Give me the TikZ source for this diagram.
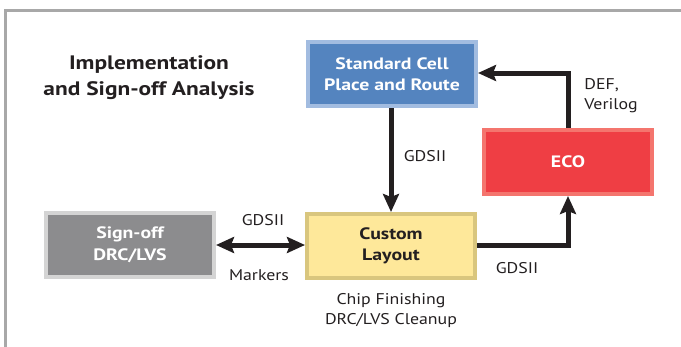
\documentclass[tikz,border=0pt]{standalone}
\usepackage{fontspec}
\setmainfont{PT Sans}[FakeStretch=1.15]
\newfontfamily\boldface{PT Sans}[FakeStretch=1.2]
\usetikzlibrary{arrows.meta}
\definecolor{scfill}{HTML}{5484BF}
\definecolor{scline}{HTML}{A2BCE0}
\definecolor{ecofill}{HTML}{EF3E44}
\definecolor{ecoline}{HTML}{F4756E}
\definecolor{sofill}{HTML}{8C8C8E}
\definecolor{soline}{HTML}{D4D4D4}
\definecolor{clfill}{HTML}{FEE89A}
\definecolor{clline}{HTML}{D9C67E}
\definecolor{ink}{HTML}{231F20}
\definecolor{frame}{HTML}{A8A8A8}
\tikzset{
  box/.style={draw, line width=4pt, minimum width=168pt, minimum height=64pt,
    align=center, font=\boldface\bfseries\fontsize{16.5}{21.5}\selectfont},
  lbl/.style={font=\fontsize{15.5}{20}\selectfont, text=ink, align=left},
  tip/.style={Stealth[length=18pt,width=16pt,inset=3pt]},
  flow/.style={line width=5pt, draw=ink, -{Stealth[length=18pt,width=16pt,inset=3pt]}},
  flowtwo/.style={line width=5pt, draw=ink, {Stealth[length=18pt,width=16pt,inset=3pt]}-{Stealth[length=18pt,width=16pt,inset=3pt]}},
}
\begin{document}
\begin{tikzpicture}[x={(1pt,0pt)},y={(0pt,-1pt)}]
\useasboundingbox (0,0) rectangle (681,346);
\draw[frame, line width=3pt] (5,360) -- (5,10) -- (700,10);
\node[font=\boldface\bfseries\fontsize{19.5}{26}\selectfont, text=ink, align=center] (title) at (149,78) {Implementation\\and Sign-off Analysis};
\node[box, draw=scline, fill=scfill, text=white] (sc) at (392,74) {Standard Cell\\Place and Route};
\node[box, draw=ecoline, fill=ecofill, text=white] (eco) at (568,162) {ECO};
\node[box, draw=soline, fill=sofill, text=white] (so) at (130,245) {Sign-off\\DRC/LVS};
\node[box, draw=clline, fill=clfill, text=ink] (cl) at (391,246) {Custom\\Layout};
\coordinate (c1) at (568,73);
\coordinate (c2) at (568,245);
\draw[flow] (sc.south -| cl.north) -- (cl.north);
\draw[flow] (eco.north) -- (c1) -- (sc.east |- c1);
\draw[flow] (cl.east |- c2) -- (c2) -- (eco.south);
\draw[flowtwo] (so.east |- c2) -- (cl.west |- c2);
\node[lbl] (l1) at (425,156) {GDSII};
\node[lbl] (l2) at (611,96) {DEF,\\Verilog};
\node[lbl] (l3) at (517,268) {GDSII};
\node[lbl] (l4) at (263,220) {GDSII};
\node[lbl] (l5) at (259,275) {Markers};
\node[lbl, align=center] (l6) at (391,311) {Chip Finishing\\DRC/LVS Cleanup};
\end{tikzpicture}
\end{document}
